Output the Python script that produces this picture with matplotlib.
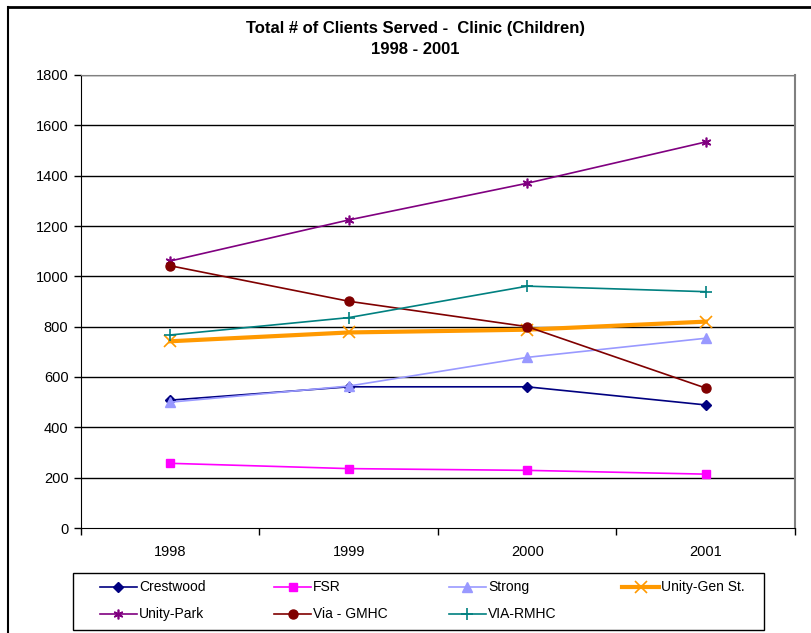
import matplotlib
matplotlib.use("Agg")
import matplotlib.pyplot as plt
from matplotlib.lines import Line2D
from matplotlib.patches import Rectangle

plt.rcParams['font.family'] = ['Liberation Sans', 'DejaVu Sans']

# chart data
years = ['1998', '1999', '2000', '2001']
crestwood = [508, 561, 561, 489]
fsr = [257, 236, 229, 214]
strong = [500, 564, 678, 754]
unity_gen = [742, 777, 788, 820]
unity_park = [1061, 1224, 1370, 1534]
via_gmhc = [1042, 901, 800, 556]
via_rmhc = [767, 836, 961, 939]

series = [
    ('Crestwood', crestwood, '#000080', 'D', 1.2, 5.5),
    ('FSR', fsr, '#FF00FF', 's', 1.2, 6),
    ('Strong', strong, '#9999FF', '^', 1.2, 7),
    ('Unity-Gen St.', unity_gen, '#FF9900', 'x', 3.0, 9),
    ('Unity-Park', unity_park, '#800080', (6, 2, 0), 1.2, 7),
    ('Via - GMHC', via_gmhc, '#800000', 'o', 1.2, 6.5),
    ('VIA-RMHC', via_rmhc, '#008080', '+', 1.2, 8),
]

W, H = 812, 633
fig = plt.figure(figsize=(W / 100, H / 100), dpi=100)
ax = fig.add_axes([81 / W, 1 - 528 / H, 714 / W, 453 / H])

x = list(range(len(years)))
for name, vals, color, marker, lw, ms in series:
    mew = 1.2 if marker in ('x', '+', (6, 2, 0)) else 1.0
    ax.plot(x, vals, color=color, lw=lw, marker=marker, ms=ms,
            mew=mew, mec=color, mfc=color, zorder=3)

ax.set_xlim(-0.5, len(years) - 0.5)
ax.set_ylim(0, 1800)
ax.set_yticks(range(0, 1801, 200))
ax.tick_params(axis='y', direction='out', length=5, width=1, labelsize=10.5,
               pad=4)
ax.set_xticks([i - 0.5 for i in range(len(years) + 1)], minor=False)
ax.set_xticklabels([])
ax.set_xticks(x, minor=True)
ax.set_xticklabels(years, minor=True)
ax.tick_params(axis='x', which='major', direction='out', length=5, width=1)
ax.tick_params(axis='x', which='minor', length=0, labelsize=10.5, pad=12)

for v in range(200, 1801, 200):
    ax.axhline(v, color='black', lw=1.0, zorder=1)

ax.spines['left'].set_color('black')
ax.spines['bottom'].set_color('black')
ax.spines['top'].set_color('#808080')
ax.spines['right'].set_color('#808080')
ax.spines['right'].set_linewidth(1.5)

fig.text(0.512, 1 - 29 / H, 'Total # of Clients Served -  Clinic (Children)',
         ha='center', va='center', fontsize=12, fontweight='bold')
fig.text(0.512, 1 - 50 / H, '1998 - 2001',
         ha='center', va='center', fontsize=12, fontweight='bold')

# legend, laid out in rows like the original
fig.add_artist(Rectangle((73 / W, 1 - 630 / H), 691 / W, 57 / H,
                         transform=fig.transFigure, fill=False,
                         edgecolor='black', lw=1.0))
col_x = [100, 274, 449, 622]
row_y = [587, 614]
for i, (name, vals, color, marker, lw, ms) in enumerate(series):
    x0 = col_x[i % 4]
    y0 = 1 - row_y[i // 4] / H
    mew = 1.2 if marker in ('x', '+', (6, 2, 0)) else 1.0
    fig.add_artist(Line2D([x0 / W, (x0 + 37) / W], [y0, y0], color=color,
                          lw=lw, transform=fig.transFigure))
    fig.add_artist(Line2D([(x0 + 18.5) / W], [y0], color=color, lw=0,
                          marker=marker, ms=ms, mew=mew, mec=color, mfc=color,
                          transform=fig.transFigure))
    fig.text((x0 + 39) / W, y0, name, ha='left', va='center', fontsize=10)

# outer chart border (top and left edges visible)
fig.add_artist(Line2D([8 / W, 1.0], [1 - 7 / H, 1 - 7 / H],
                      color='black', lw=2, transform=fig.transFigure))
fig.add_artist(Line2D([8 / W, 8 / W], [0, 1 - 7 / H],
                      color='black', lw=1.5, transform=fig.transFigure))

fig.savefig('out.png', dpi=100)
